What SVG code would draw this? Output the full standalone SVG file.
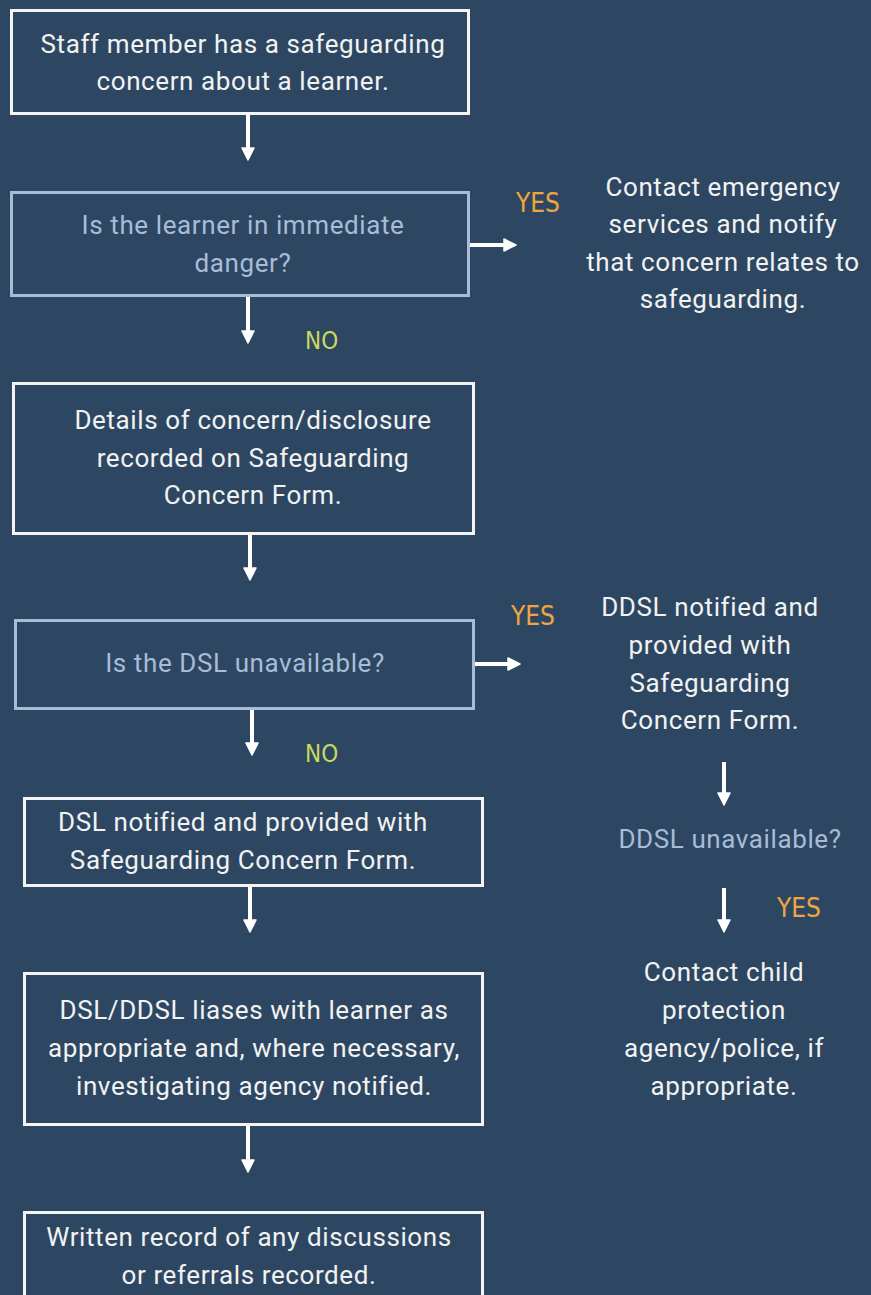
<svg xmlns="http://www.w3.org/2000/svg" width="871" height="1295" viewBox="0 0 871 1295">
<defs>
<style>
.bg{fill:#2d4762}
.box{fill:none;stroke:#f4f4f4;stroke-width:3}
.qbox{fill:none;stroke:#a8bcd8;stroke-width:3}
.t{font-family:Roboto,"Liberation Sans",sans-serif;font-size:26px;letter-spacing:0.6px;fill:#f2f2f2;text-anchor:middle}
.q{font-family:Roboto,"Liberation Sans",sans-serif;font-size:26px;letter-spacing:0.6px;fill:#a8bcd8;text-anchor:middle}
.yes{font-family:"DejaVu Sans Condensed","Liberation Sans",sans-serif;font-size:26px;fill:#f0a63e}
.no{font-family:"DejaVu Sans Condensed","Liberation Sans",sans-serif;font-size:24px;fill:#c9d95e}
.ar{stroke:#ffffff;stroke-width:4;fill:none}
</style>
<marker id="ah" viewBox="0 0 14 14" refX="6" refY="7" markerWidth="14" markerHeight="14" markerUnits="userSpaceOnUse" orient="auto">
<path d="M1,1 L13,7 L1,13 Z" fill="#ffffff" stroke="#ffffff" stroke-width="1.5" stroke-linejoin="round"/>
</marker>
</defs>
<rect class="bg" x="0" y="0" width="871" height="1295"/>
<g id="connectors">
<line class="ar" x1="248" y1="115" x2="248" y2="153" marker-end="url(#ah)"/>
<line class="ar" x1="248" y1="297" x2="248" y2="336" marker-end="url(#ah)"/>
<line class="ar" x1="470" y1="245" x2="509" y2="245" marker-end="url(#ah)"/>
<line class="ar" x1="250" y1="535" x2="250" y2="573" marker-end="url(#ah)"/>
<line class="ar" x1="475" y1="664" x2="513" y2="664" marker-end="url(#ah)"/>
<line class="ar" x1="252" y1="710" x2="252" y2="748" marker-end="url(#ah)"/>
<line class="ar" x1="724" y1="762" x2="724" y2="798" marker-end="url(#ah)"/>
<line class="ar" x1="724" y1="888" x2="724" y2="925" marker-end="url(#ah)"/>
<line class="ar" x1="250" y1="887" x2="250" y2="925" marker-end="url(#ah)"/>
<line class="ar" x1="248" y1="1126" x2="248" y2="1165" marker-end="url(#ah)"/>
<text class="yes" x="516" y="212">YES</text>
<text class="no" x="305" y="349">NO</text>
<text class="yes" x="511" y="625">YES</text>
<text class="no" x="305" y="762">NO</text>
<text class="yes" x="777" y="917">YES</text>
</g>
<g id="n1">
<rect class="box" x="11.5" y="10.5" width="457" height="103"/>
<text class="t" x="243" y="53">Staff member has a safeguarding</text>
<text class="t" x="243" y="90">concern about a learner.</text>
</g>
<g id="n2">
<rect class="qbox" x="11.5" y="192.5" width="457" height="103"/>
<text class="q" x="243" y="234">Is the learner in immediate</text>
<text class="q" x="243" y="272">danger?</text>
</g>
<g id="n3">
<text class="t" x="723" y="196">Contact emergency</text>
<text class="t" x="723" y="233">services and notify</text>
<text class="t" x="723" y="271">that concern relates to</text>
<text class="t" x="723" y="308">safeguarding.</text>
</g>
<g id="n4">
<rect class="box" x="13.5" y="383.5" width="460" height="150"/>
<text class="t" x="253" y="429">Details of concern/disclosure</text>
<text class="t" x="253" y="467">recorded on Safeguarding</text>
<text class="t" x="253" y="504">Concern Form.</text>
</g>
<g id="n5">
<rect class="qbox" x="15.5" y="620.5" width="458" height="88"/>
<text class="q" x="245" y="672">Is the DSL unavailable?</text>
</g>
<g id="n6">
<text class="t" x="710" y="616">DDSL notified and</text>
<text class="t" x="710" y="654">provided with</text>
<text class="t" x="710" y="692">Safeguarding</text>
<text class="t" x="710" y="729">Concern Form.</text>
</g>
<g id="n7">
<text class="q" x="730" y="848">DDSL unavailable?</text>
</g>
<g id="n8">
<text class="t" x="724" y="981">Contact child</text>
<text class="t" x="724" y="1019">protection</text>
<text class="t" x="724" y="1057">agency/police, if</text>
<text class="t" x="724" y="1095">appropriate.</text>
</g>
<g id="n9">
<rect class="box" x="24.5" y="798.5" width="458" height="87"/>
<text class="t" x="243" y="831">DSL notified and provided with</text>
<text class="t" x="243" y="869">Safeguarding Concern Form.</text>
</g>
<g id="n10">
<rect class="box" x="24.5" y="973.5" width="458" height="151"/>
<text class="t" x="254" y="1019">DSL/DDSL liases with learner as</text>
<text class="t" x="254" y="1057">appropriate and, where necessary,</text>
<text class="t" x="254" y="1095">investigating agency notified.</text>
</g>
<g id="n11">
<rect class="box" x="24.5" y="1212.5" width="458" height="100"/>
<text class="t" x="249" y="1246">Written record of any discussions</text>
<text class="t" x="249" y="1284">or referrals recorded.</text>
</g>
</svg>
